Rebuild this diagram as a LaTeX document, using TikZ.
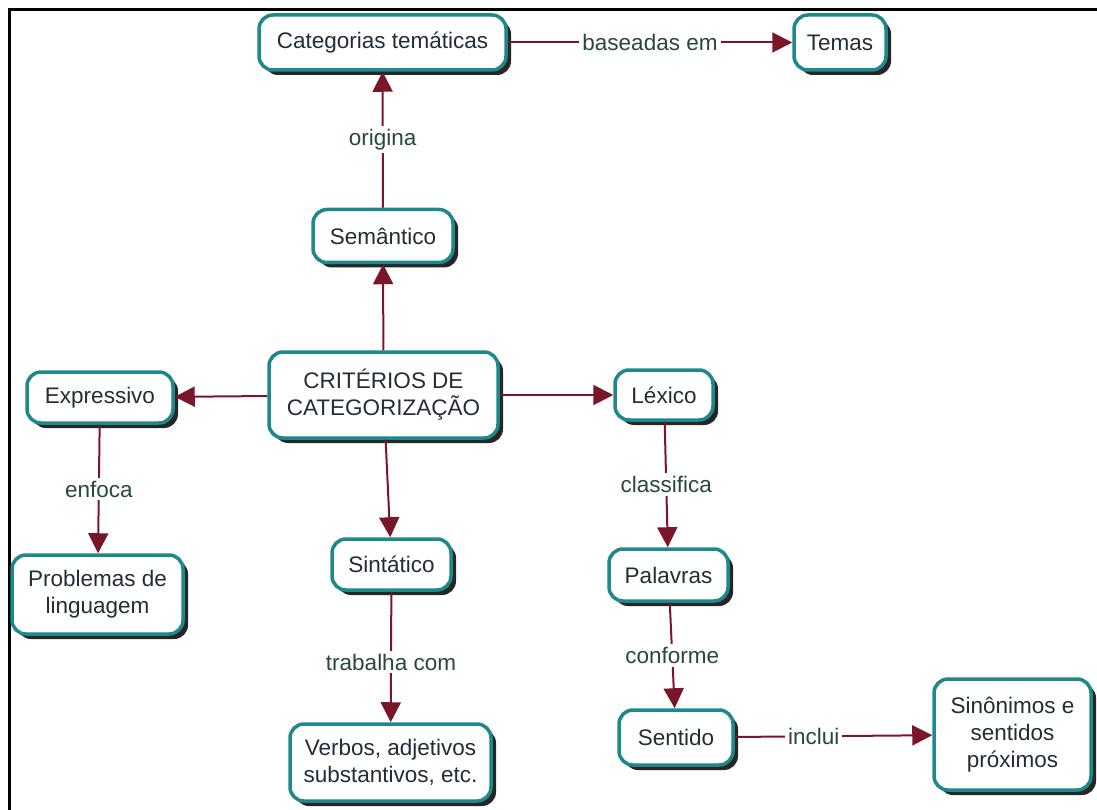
\documentclass[tikz,border=0pt]{standalone}
\usepackage{fontspec}
\setmainfont{Liberation Sans}
\usetikzlibrary{arrows.meta,shadows}

\definecolor{boxteal}{RGB}{30,136,138}
\definecolor{linkred}{RGB}{122,22,42}
\definecolor{lbltext}{RGB}{40,72,62}
\definecolor{boxtext}{RGB}{35,45,55}

\begin{document}
\begin{tikzpicture}[x=1pt, y=-1pt, >={Triangle[length=20pt,width=20pt]},
  concept/.style={draw=boxteal, line width=3.5pt, rounded corners=14pt, fill=white,
    text=boxtext, align=center, inner sep=2pt,
    font=\fontsize{22.5}{27}\selectfont,
    drop shadow={shadow xshift=5pt, shadow yshift=-5pt, fill=black!85, opacity=1}},
  link/.style={->, draw=linkred, line width=2pt},
  phrase/.style={fill=white, text=lbltext, inner sep=3pt,
    font=\fontsize{22.5}{27}\selectfont}]
  \useasboundingbox (0,0) rectangle (1097,810);
  \draw[line width=3pt] (9,10) rectangle (1115,825);

  \node[concept, minimum width=247pt, minimum height=55pt] (tematicas) at (382.5,42.5) {Categorias temáticas};
  \node[concept, minimum width=92pt, minimum height=55pt] (temas) at (840,42.5) {Temas};
  \node[concept, minimum width=140pt, minimum height=53pt] (semantico) at (383,236) {Semântico};
  \node[concept, minimum width=229pt, minimum height=86pt] (criterios) at (383.5,395) {CRITÉRIOS DE\\CATEGORIZAÇÃO};
  \node[concept, minimum width=146pt, minimum height=51pt] (expressivo) at (100,397.5) {Expressivo};
  \node[concept, minimum width=98pt, minimum height=50pt] (lexico) at (664,395) {Léxico};
  \node[concept, minimum width=171pt, minimum height=79pt] (problemas) at (97.5,594.5) {Problemas de\\linguagem};
  \node[concept, minimum width=119pt, minimum height=51pt] (sintatico) at (391.5,564.5) {Sintático};
  \node[concept, minimum width=119pt, minimum height=52pt] (palavras) at (668.5,575) {Palavras};
  \node[concept, minimum width=201pt, minimum height=77pt] (verbos) at (390.5,762.5) {Verbos, adjetivos\\substantivos, etc.};
  \node[concept, minimum width=114pt, minimum height=55pt] (sentido) at (676,737.5) {Sentido};
  \node[concept, minimum width=157pt, minimum height=111pt] (sinonimos) at (1012.5,734.5) {Sinônimos e\\sentidos\\próximos};

  % ligacoes
  \draw[link] (tematicas) -- node[phrase] {baseadas em} (temas);
  \draw[link] (semantico) -- node[phrase] {origina} (tematicas);
  \draw[link] (criterios) -- (semantico);
  \draw[link] (criterios) -- (expressivo);
  \draw[link] (criterios) -- (lexico);
  \draw[link] (criterios) -- (sintatico);
  \draw[link] (expressivo) -- node[phrase] {enfoca} (problemas);
  \draw[link] (sintatico) -- node[phrase, pos=0.54] {trabalha com} (verbos);
  \draw[link] (lexico) -- node[phrase] {classifica} (palavras);
  \draw[link] (palavras) -- node[phrase] {conforme} (sentido);
  \draw[link] (sentido) -- node[phrase, pos=0.4] {inclui} (sinonimos);
\end{tikzpicture}
\end{document}
